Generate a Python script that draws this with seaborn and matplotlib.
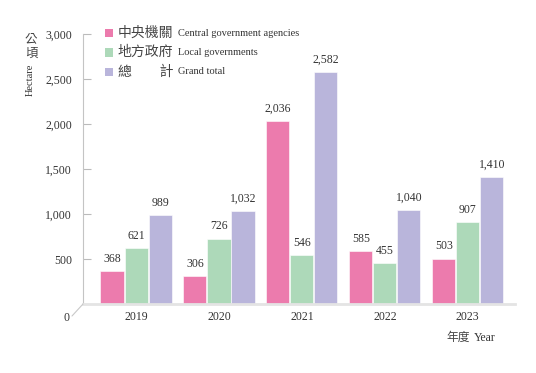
import pandas as pd
import seaborn as sns
import matplotlib.pyplot as plt
from matplotlib.lines import Line2D
from matplotlib.patches import Rectangle

years = ["2019", "2020", "2021", "2022", "2023"]
central = [368, 306, 2036, 585, 503]
local = [621, 726, 546, 455, 907]
total = [989, 1032, 2582, 1040, 1410]
series_zh = ["中央機關", "地方政府", "總\u3000\u3000計"]
series_en = ["Central government agencies", "Local governments", "Grand total"]
colors = ["#EC7BAD", "#ADD9B9", "#B9B5DB"]
yticks = [500, 1000, 1500, 2000, 2500, 3000]

W, H = 536, 373


def px(x, y):
    # pixel coords (from top-left) -> figure fraction
    return x / W, 1 - y / H


sns.set_theme(style="white")
plt.rcParams['font.family'] = ['Liberation Serif', 'Noto Sans CJK TC']
plt.rcParams['axes.unicode_minus'] = False

rows = []
for name, vals in zip(series_en, [central, local, total]):
    for yr, v in zip(years, vals):
        rows.append({"year": yr, "series": name, "value": v})
df = pd.DataFrame(rows)

fig = plt.figure(figsize=(W / 100, H / 100), dpi=100)
ax = fig.add_axes([83 / W, 69 / H, 432 / W, 270 / H])

sns.barplot(data=df, x="year", y="value", hue="series", hue_order=series_en,
            palette=colors, saturation=1, width=0.87, gap=0.04, legend=False,
            edgecolor="white", linewidth=0.4, ax=ax)

for cont in ax.containers:
    ax.bar_label(cont, labels=[f"{v:,.0f}" for v in cont.datavalues],
                 padding=4.5, fontsize=8.5, color="#333333")

ax.set_xlim(-0.64, 4.57)
ax.set_ylim(0, 3000)
ax.set_yticks(yticks)
ax.set_yticklabels([f"{v:,}" for v in yticks])
ax.set_xlabel("")
ax.set_ylabel("")
ax.tick_params(axis="y", direction="in", length=6, width=0.8, color="#BBBBBB",
               pad=8, labelsize=8.5, labelcolor="#333333", left=True)
ax.tick_params(axis="x", length=0, pad=5, labelsize=8.5, labelcolor="#333333")

for s in ["top", "right"]:
    ax.spines[s].set_visible(False)
ax.spines["left"].set_color("#C4C4C4")
ax.spines["left"].set_linewidth(0.8)
ax.spines["bottom"].set_color("#E4E4E4")
ax.spines["bottom"].set_linewidth(2)

# pseudo 3-d floor corner and the zero label
x0, y0 = px(83, 304)
x1, y1 = px(72, 316)
fig.add_artist(Line2D([x0, x1], [y0, y1], transform=fig.transFigure,
                      color="#C8C8C8", lw=0.8))
fig.text(*px(70, 318), "0", ha="right", va="center", fontsize=8.5, color="#333333")

# y unit label
fig.text(*px(31, 39), "公", ha="center", va="center", fontsize=9, color="#444444")
fig.text(*px(31, 54), "頃", ha="center", va="center", fontsize=9, color="#444444")
fig.text(*px(30, 80), "Hectare", ha="center", va="center", rotation=90,
         fontsize=7.5, color="#333333")

# x unit label
fig.text(*px(470, 338), "年度", ha="right", va="center", fontsize=8.5, color="#444444")
fig.text(*px(474, 338), "Year", ha="left", va="center", fontsize=8.5, color="#333333")

# legend
for i, (zh, en, c) in enumerate(zip(series_zh, series_en, colors)):
    yc = 33 + i * 19.5
    bx, by = px(105, yc + 4)
    fig.add_artist(Rectangle((bx, by), 8 / W, 8 / H, transform=fig.transFigure,
                             facecolor=c, edgecolor="none"))
    fig.text(*px(118, yc), zh, ha="left", va="center", fontsize=10, color="#444444")
    fig.text(*px(178, yc), en, ha="left", va="center", fontsize=7.5, color="#333333")

fig.savefig("out.png", dpi=100)
